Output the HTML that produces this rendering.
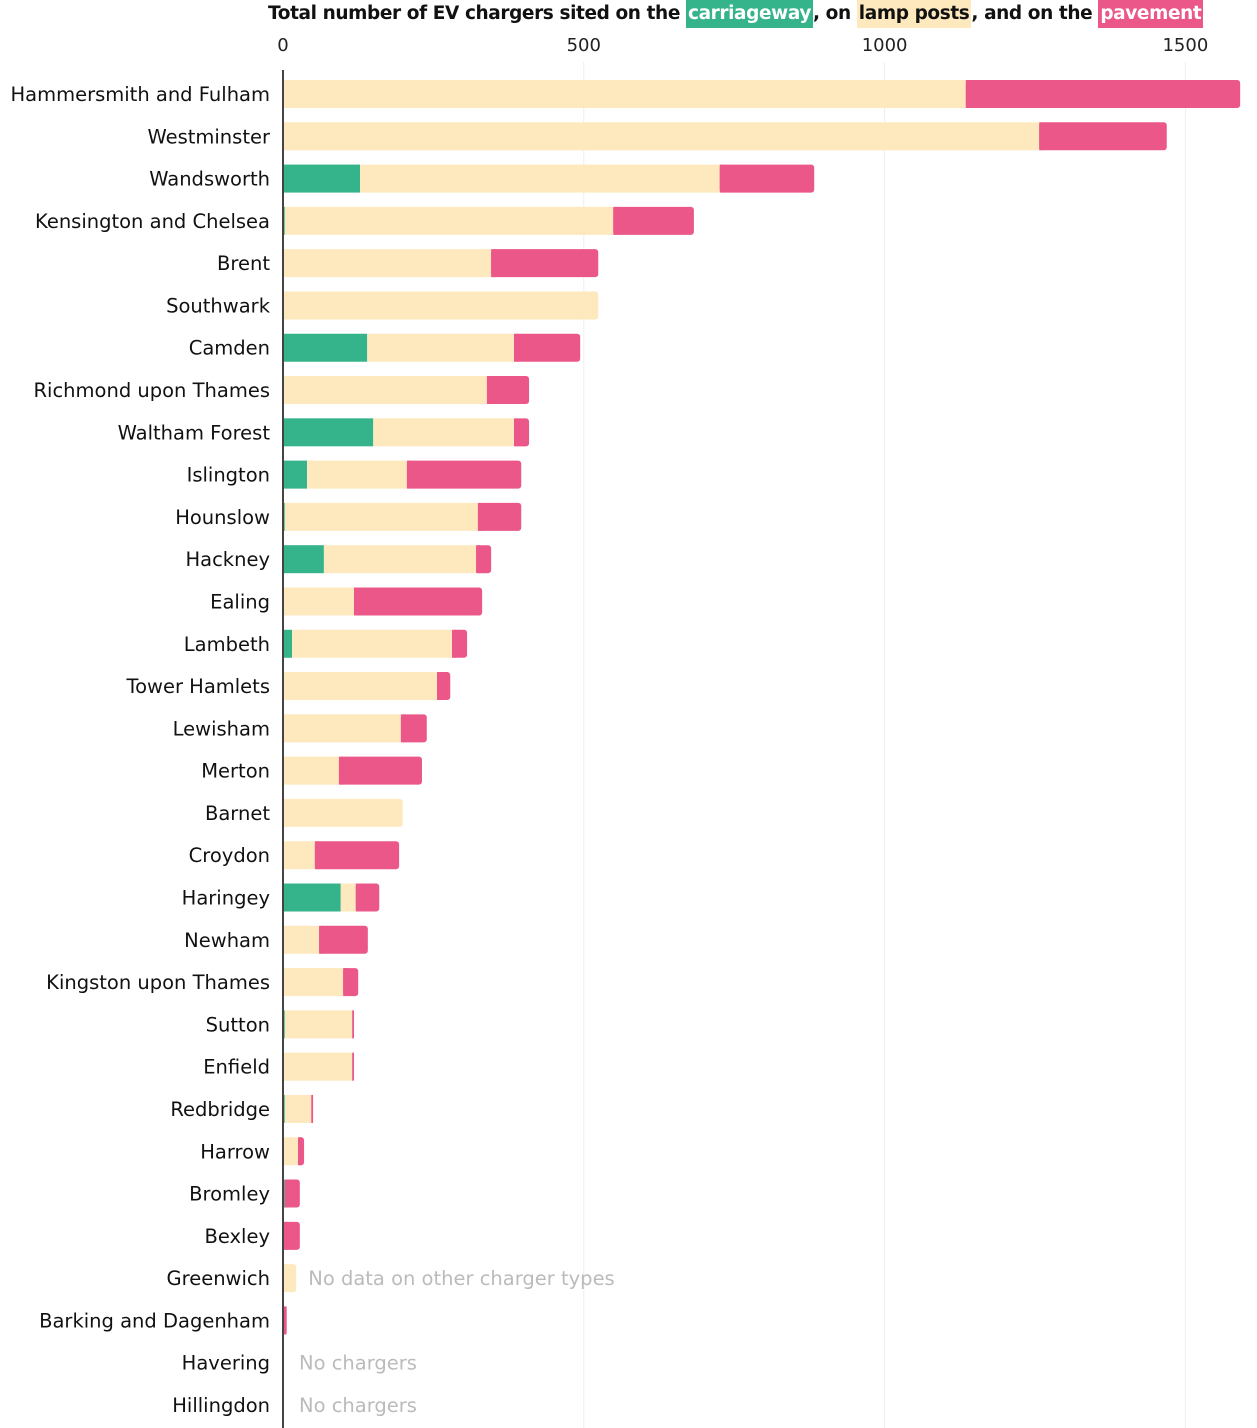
<!DOCTYPE html>
<html><head><meta charset="utf-8"><style>
body{margin:0;background:#fff;width:1257px;height:1428px;overflow:hidden;font-family:"DejaVu Sans","Liberation Sans",sans-serif}
#title{position:absolute;left:268px;top:0;height:28px;line-height:28px;font-size:18.5px;font-weight:bold;color:#111;white-space:nowrap;letter-spacing:-0.4px}
#title span{padding:0 2px;display:inline-block}
</style></head><body>
<div id="title">Total number of EV chargers sited on the <span style="background:#35b38b;color:#fff">carriageway</span>, on <span style="background:#fde9bd">lamp posts</span>, and on the <span style="background:#ea5788;color:#fff">pavement</span></div>
<svg id="chart" width="1257" height="1428" style="position:absolute;left:0;top:0;font-family:'DejaVu Sans','Liberation Sans',sans-serif"></svg>
<script>
const boroughs=["Hammersmith and Fulham","Westminster","Wandsworth","Kensington and Chelsea","Brent","Southwark","Camden","Richmond upon Thames","Waltham Forest","Islington","Hounslow","Hackney","Ealing","Lambeth","Tower Hamlets","Lewisham","Merton","Barnet","Croydon","Haringey","Newham","Kingston upon Thames","Sutton","Enfield","Redbridge","Harrow","Bromley","Bexley","Greenwich","Barking and Dagenham","Havering","Hillingdon"];
const carriageway=[0,0,128,3,0,0,140,0,150,40,3,68,0,15,0,0,0,0,0,96,0,0,3,0,3,0,3,0,0,0,0,0];
const lampPosts=[1135,1257,598,546,346,524,244,339,234,166,321,253,118,266,256,196,93,199,53,25,60,100,112,115,44,25,0,0,22,0,0,0];
const pavement=[456,212,157,134,178,0,110,70,25,190,72,25,213,25,22,43,138,0,140,39,81,25,3,3,3,10,25,28,0,6,0,0];
const notes={"Greenwich":"No data on other charger types","Havering":"No chargers","Hillingdon":"No chargers"};
const ticks=[0,500,1000,1500];
const NS="http://www.w3.org/2000/svg",svg=document.getElementById('chart');
const x=v=>283+v*0.6016, y0=94, step=42.29, bh=28;
const yc=i=>y0+i*step;
function mk(t,a){const e=document.createElementNS(NS,t);for(const k in a)e.setAttribute(k,a[k]);svg.appendChild(e);return e;}
ticks.forEach(t=>{
 if(t>0){const g=mk('line',{x1:x(t),x2:x(t),y1:62,y2:1428,stroke:'#eee','stroke-width':1});
 
 }
 const l=mk('text',{x:x(t),y:51,'text-anchor':'middle','font-size':18,fill:'#222'});l.textContent=t;
 
 
});
boroughs.forEach((b,i)=>{
 const yy=yc(i);
 const lab=mk('text',{x:270,y:yy+7,'text-anchor':'end','font-size':19.5,fill:'#111'});lab.textContent=b;
 
 
 const segs=[[carriageway[i],'#35b38b','bar-carriageway'],[lampPosts[i],'#fde9bd','bar-lamp-posts'],[pavement[i],'#ea5788','bar-pavement']];
 let acc=0;const total=carriageway[i]+lampPosts[i]+pavement[i];
 segs.forEach(([v,c,n])=>{
  if(v<=0)return;
  const last=(acc+v===total);
  const r=mk('rect',{x:x(acc),y:yy-bh/2,width:Math.max(x(acc+v)-x(acc),1),height:bh,fill:c,rx:last&&v>5?3:0});
  
  
  if(last&&v>5){const s=mk('rect',{x:x(acc),y:yy-bh/2,width:Math.min(4,x(acc+v)-x(acc)),height:bh,fill:c});
   
   }
  acc+=v;
 });
 if(notes[b]){const t=mk('text',{x:total>0?x(total)+12:299,y:yy+7,'font-size':19.5,fill:'#bbb'});t.textContent=notes[b];
  
  }
});
const ax=mk('line',{x1:283,x2:283,y1:70,y2:1428,stroke:'#444','stroke-width':2});


</script>
</body></html>
